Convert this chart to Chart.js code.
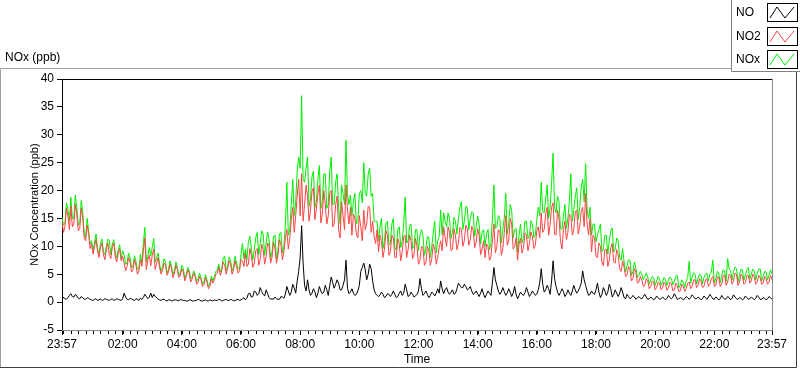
<!DOCTYPE html>
<html>
<head>
<meta charset="utf-8">
<title>NOx (ppb)</title>
<script src="https://cdn.jsdelivr.net/npm/chart.js@4.4.1/dist/chart.umd.min.js"></script>
<style>
  html, body { margin: 0; padding: 0; background: #fff; }
</style>
</head>
<body>
<canvas id="noxChart" width="800" height="369"></canvas>
<script>
// one reading every 6 minutes, counted from 23:57; the *Mid arrays hold
// the readings 3 minutes after each of those
var minutes = [];
for (var i = 0; i <= 240; i++) minutes.push(i * 6);

var tickMinutes = [0, 123, 243, 363, 483, 603, 723, 843, 963, 1083, 1203, 1323, 1440];
var tickLabels = ["23:57", "02:00", "04:00", "06:00", "08:00", "10:00", "12:00",
                  "14:00", "16:00", "18:00", "20:00", "22:00", "23:57"];

var seriesNames = ["NO", "NO2", "NOx"];
var seriesColors = ["#000000", "#ff4444", "#00f000"];

// values (ppb)
var no = [
  0.4, 0.6, 0.8, 1.5, 0.9, 1.1, 0.6, 0.8, 0.5, 0.7, 0.4,
  0.5, 0.3, 0.6, 0.4, 0.5, 0.3, 0.6, 0.4, 0.5, 0.3,
  1.6, 0.5, 0.7, 0.4, 0.6, 0.3, 0.5, 1.4, 0.6, 1.6,
  1.4, 0.8, 0.4, 0.5, 0.3, 0.4, 0.2, 0.4, 0.3, 0.5,
  0.3, 0.2, 0.4, 0.2, 0.3, 0.5, 0.2, 0.3, 0.2, 0.4,
  0.2, 0.3, 0.5, 0.2, 0.4, 0.3, 0.5, 0.2, 0.4, 0.3,
  0.6, 0.4, 1.5, 0.9, 2, 1.2, 2.6, 1.4, 2.2, 0.8,
  0.6, 0.9, 0.5, 1, 0.7, 2.8, 1.2, 3.2, 1.6, 5.5,
  13.7, 3, 4, 1.2, 2.4, 0.8, 2.8, 1.5, 3, 1.2,
  4.5, 2.5, 4, 2.2, 3, 7.5, 1.5, 2.4, 1.2, 2,
  5.5, 7, 4, 6.8, 3.8, 1.5, 1, 1.8, 0.8, 1.5,
  1, 2, 0.8, 1.6, 1.2, 3.2, 1, 1.8, 0.9, 1.4,
  4.2, 1.2, 2, 0.8, 1.8, 1.1, 2.4, 3.8, 1.5, 2.6,
  1.4, 2.2, 1.6, 3.4, 2.6, 3.2, 2.2, 2.8, 1.4, 2,
  1, 2.4, 0.8, 2, 1.2, 6.2, 3, 1.4, 2.6, 1.2,
  2.4, 1, 2.8, 0.6, 1.8, 1.2, 2.6, 1, 2, 1.2,
  2.2, 6, 1.8, 3, 1.4, 7.4, 2.8, 1.2, 2.4, 1,
  2.2, 1.2, 3, 1.6, 2.6, 5.6, 3, 1.2, 2, 1.4,
  3.4, 0.8, 2.6, 1.2, 3.2, 0.9, 2.2, 1, 2.6, 0.8,
  1.4, 0.6, 1.2, 0.5, 1, 0.6, 1.4, 0.5, 0.9, 0.4,
  1.1, 0.5, 0.9, 0.4, 1.2, 0.6, 1.5, 0.5, 0.8, 0.4,
  1, 0.5, 1.3, 0.6, 0.9, 0.4, 1.1, 0.5, 1.4, 0.6,
  0.9, 0.4, 1.2, 0.5, 1, 0.4, 1.3, 0.6, 0.8, 0.4,
  1.1, 0.5, 0.9, 0.4, 1.2, 0.5, 0.8, 0.4, 1, 0.5
];
var noMid = [
  0.9, 0.5, 1.2, 1, 1.4, 0.7, 1, 0.5, 0.8, 0.5,
  0.3, 0.6, 0.4, 0.3, 0.6, 0.4, 0.5, 0.3, 0.6, 0.4,
  0.6, 0.9, 0.4, 0.6, 0.3, 0.5, 0.7, 0.8, 1, 0.9,
  0.8, 1, 0.5, 0.3, 0.5, 0.2, 0.4, 0.3, 0.4, 0.2,
  0.4, 0.3, 0.2, 0.4, 0.2, 0.3, 0.4, 0.2, 0.4, 0.2,
  0.3, 0.4, 0.3, 0.4, 0.3, 0.5, 0.3, 0.4, 0.3, 0.5,
  0.4, 0.8, 0.7, 1.6, 1, 1.8, 1.5, 1.9, 1.1, 1.5,
  0.5, 0.5, 0.6, 0.5, 0.9, 1.4, 2, 1.8, 2.5, 3.8,
  8, 7, 2, 2.2, 1.6, 1.8, 1.6, 2, 1.8, 2.2,
  3, 3.5, 3.2, 3.4, 2.2, 4, 2.5, 1.8, 1.6, 1.4,
  3, 6.2, 5.8, 5, 6, 2.2, 1.2, 1.3, 1.4, 1,
  1.4, 1.4, 1.4, 1, 2, 1.6, 2.2, 1.2, 1.4, 1.1,
  2, 2.4, 1.5, 1.4, 1.2, 1.5, 1.6, 1.6, 2.4, 2.2,
  1.8, 1.8, 1.4, 2.4, 3, 2.6, 2.8, 2.4, 2, 1.6,
  1.5, 1.6, 1.4, 1.4, 1.6, 3.6, 4, 2, 1.8, 1.9,
  1.6, 1.8, 1.6, 1.4, 1.2, 1.4, 1.7, 1.8, 1.4, 1.6,
  1.5, 3.5, 3.2, 2.2, 2.4, 3.8, 4.2, 1.8, 1.7, 1.9,
  1.4, 1.6, 2, 2.2, 2, 3.4, 4, 2, 1.4, 1.6,
  2.2, 1.8, 1.4, 2, 1.8, 2.4, 1.4, 1.6, 1.6, 1.8,
  0.6, 1, 0.8, 0.9, 0.8, 0.7, 1, 0.9, 0.6, 0.7,
  0.6, 0.8, 0.6, 0.7, 0.7, 0.8, 0.9, 1, 0.6, 0.7,
  0.6, 0.8, 0.8, 1, 0.6, 0.7, 0.6, 0.8, 0.9, 1,
  0.5, 0.7, 0.6, 0.8, 0.6, 0.8, 0.7, 0.9, 0.5, 0.7,
  0.6, 0.8, 0.6, 0.7, 0.7, 0.9, 0.5, 0.7, 0.6, 0.8
];

var no2 = [
  14.5, 13.5, 15.5, 17.2, 14, 15.8, 13.2, 15.2, 11, 12.3, 10.5,
  10, 9.2, 9.8, 8.5, 9.4, 8.4, 9.8, 8.2, 8.8, 7.4,
  7, 6.4, 7.2, 5.8, 6.6, 5.6, 6.4, 11.5, 7.5, 6.5,
  9.5, 7, 6.2, 5.8, 6.6, 5.4, 6, 5.2, 5.8, 4.8,
  5.4, 4.6, 5.2, 4.2, 4.6, 3.6, 4, 3.2, 3.6, 2.8,
  3.4, 5, 6.2, 5.6, 6.6, 6, 6.8, 5.8, 6.4, 5.6,
  7.4, 8.8, 6.8, 8.4, 7, 9.6, 7.6, 9.4, 8.2, 10,
  8, 9.6, 8.4, 10.4, 9, 13, 11.5, 17, 15.5, 22,
  23, 17.5, 19, 16.5, 20.5, 16.8, 21, 15.8, 17.5, 15.5,
  20, 14, 19, 11.5, 15.5, 21, 14, 12, 15, 11.5,
  13.5, 16.5, 14, 17, 14.5, 10.5, 9, 11, 9.5, 12,
  9, 11.5, 8, 10.5, 9, 12, 9.5, 11, 8.6, 10,
  7.5, 9.8, 7, 9.2, 7.8, 9.5, 8, 11, 13.5, 10,
  12.5, 9.5, 12, 10.5, 13, 11, 13.2, 11.2, 12.8, 10.8,
  12, 9.5, 8, 10, 8.2, 14, 10, 12.5, 9.5, 15.5,
  11, 14, 10, 7.5, 11.5, 9.8, 12, 10.5, 11.8, 10.2,
  13.5, 16, 13, 17, 14, 17.8, 12, 15, 9.5, 14.5,
  12.5, 15.5, 13, 16.5, 13.5, 17, 19.5, 12, 9, 11.5,
  8, 10, 6.5, 9.5, 7.5, 10.5, 7, 8.5, 5.5, 6.2,
  4.8, 5.8, 4.2, 5.4, 3.6, 4, 3, 3.8, 2.8, 3.6,
  2.6, 3.4, 2.5, 3.2, 2.6, 3.3, 2.2, 3, 2, 2.8,
  2.4, 3.6, 2.8, 4, 3, 3.8, 2.8, 4.2, 3.2, 4.6,
  3, 4.4, 3.2, 4.8, 3.6, 4.8, 3.8, 5, 3.6, 4.6,
  3.5, 4.8, 3.8, 4.6, 3.6, 4.4, 3.4, 4.2, 3.6, 4
];
var no2Mid = [
  12.5, 16.8, 13, 13.5, 17.5, 12.8, 16.8, 11.5, 13.8, 9.6,
  8.6, 11.2, 8, 10.6, 7.6, 10.6, 7.8, 10.6, 7.2, 9.6,
  8.2, 5.6, 8, 5.4, 7.6, 5, 7.6, 9.2, 5.8, 8.4,
  8.4, 5.8, 8, 5, 7, 4.8, 6.8, 4.4, 6.6, 4.4,
  6, 3.8, 5.8, 3.6, 5.2, 3.2, 4.6, 2.8, 4.4, 2.4,
  4.2, 4, 5.2, 4.8, 7.2, 5, 7.4, 5, 7.4, 5.2,
  7.6, 6.4, 6.4, 9.6, 6.2, 9.2, 6.6, 10.4, 6.8, 10.6,
  7, 10.8, 7, 11.2, 7.6, 11.5, 9.5, 14.8, 12.5, 19,
  15.5, 14.5, 21, 14.5, 19.8, 14.8, 19.5, 14.2, 20, 14,
  19.5, 13.5, 17.5, 13, 18, 13, 16.5, 17, 15.8, 12.2,
  15.5, 11, 13, 17.2, 12.5, 11.8, 13, 12, 8, 12.8,
  8.4, 12, 8, 11.4, 7.4, 11.8, 8, 12, 7.8, 11.4,
  6.8, 10, 6.6, 10, 6.6, 10.4, 6.8, 9.8, 9.2, 11.6,
  13.5, 9.2, 13.2, 9.4, 13.4, 10, 13.8, 10.2, 13.6, 9.8,
  13.2, 8.5, 11, 10.4, 7.5, 11, 8.8, 13, 8.4, 12.5,
  10.2, 15, 9.5, 11.5, 10.4, 8.8, 12.4, 9.2, 12.6, 9.6,
  12.8, 11.5, 12.5, 15.8, 12, 17, 12.2, 16.5, 11, 13,
  11.2, 15.8, 12, 16.2, 12.2, 16.2, 13.5, 14, 15, 12,
  8.2, 10.6, 7.2, 9.4, 6.4, 9.8, 7.2, 9.4, 6, 7.4,
  4.6, 6.4, 3.8, 6, 3.4, 4.6, 2.8, 4.2, 2.4, 3.8,
  2.2, 3.6, 2.2, 3.6, 2.1, 3.6, 2, 3.4, 1.9, 3.2,
  1.9, 3.4, 2.4, 4, 2.6, 4.2, 2.6, 4, 2.8, 4.2,
  2.8, 4.6, 2.8, 4.8, 3, 5, 3.2, 5.2, 3, 5,
  3.2, 4.8, 3.4, 5, 3.2, 4.8, 3.2, 4.6, 3.2, 4.8
];

var nox = [
  15.2, 14.2, 16.5, 18.8, 15, 17, 14, 16.2, 11.6, 12.8, 11,
  10.6, 9.6, 10.5, 9, 10, 11, 10.4, 8.8, 9.4, 7.8,
  8.4, 7, 8, 6.3, 7.3, 6, 7, 13.4, 8.2, 8.3,
  11.4, 8, 6.7, 6.3, 7.2, 5.8, 6.5, 5.6, 6.2, 5.3,
  6, 4.9, 5.7, 4.5, 5, 4.2, 4.3, 3.6, 4, 3.3,
  3.8, 5.5, 6.8, 6, 8.2, 6.4, 7.3, 6.3, 7, 6,
  10.5, 9.5, 10.8, 9.6, 9.4, 12.5, 10.5, 12.2, 10.6, 11.2,
  9, 12, 9.2, 12.5, 10, 21.5, 13, 22, 18, 26,
  37, 21.5, 26, 18.5, 23.5, 18, 24.5, 18, 23, 17.5,
  26, 17.5, 23, 14, 19.5, 29, 17.5, 15.5, 19.5, 14.5,
  20, 25, 19, 24, 19.5, 14.5, 11, 15, 11, 14.5,
  10.5, 15, 9.3, 13.5, 11, 18.8, 11, 14, 10, 13,
  12, 12, 9.5, 11.5, 10, 14.5, 11, 16.5, 16, 13.5,
  15, 12.5, 14.5, 15, 18, 14.5, 17, 15, 16, 13.5,
  14, 12.5, 10, 13, 10.5, 21, 13.5, 15, 13, 19.5,
  14, 16.5, 13, 9, 14, 11.5, 14.5, 12, 14, 12,
  17, 21.5, 16, 21, 17, 26.7, 16, 18, 13, 17.5,
  15, 23, 16.5, 20.5, 17, 22, 24.8, 15, 12, 14,
  12, 14, 9.5, 12, 11, 13.3, 9.5, 11, 7.5, 7.2,
  6.5, 7.5, 5.5, 6, 4.8, 5, 4.6, 4.5, 4, 4.3,
  3.8, 4.2, 3.6, 4, 4, 4.2, 3.8, 4.8, 3, 3.6,
  3.8, 7.3, 4.5, 5, 4.2, 4.8, 4.4, 5.2, 5, 7.5,
  4.2, 5.2, 4.8, 5.6, 7.8, 5.6, 5.5, 6, 4.8, 5.8,
  4.9, 6.2, 5, 5.6, 5.2, 6, 4.6, 5.4, 4.8, 5
];
var noxMid = [
  13.8, 17.8, 14.6, 15, 19.2, 13.8, 18.2, 12.4, 15, 10.4,
  9.2, 12.2, 8.6, 11.3, 8.5, 11.3, 8.5, 11.2, 8, 10.3,
  9.2, 6.8, 8.8, 6.2, 8.3, 5.8, 8.6, 10.5, 7.2, 9.8,
  9.8, 7.2, 8.8, 5.6, 7.8, 5.2, 7.4, 5, 7.2, 4.8,
  6.6, 4.3, 6.2, 4.2, 5.6, 3.7, 5.2, 3.2, 4.9, 2.8,
  4.7, 4.6, 5.8, 5.4, 8, 5.7, 8.1, 5.6, 8.2, 6,
  8.5, 7.8, 7.6, 11.8, 7.6, 11.6, 8.5, 12.8, 8.4, 12.6,
  7.8, 11.8, 7.8, 12.2, 8.8, 13.6, 12, 17.5, 15.5, 23.5,
  24, 22, 24, 17.2, 22.5, 17, 22, 16.8, 23, 16.8,
  23.5, 17.5, 21.5, 17, 21, 17.5, 19.5, 19.2, 18, 14,
  19.5, 17.8, 19.5, 23, 19, 14.5, 14.5, 13.6, 9.6, 14.2,
  10.2, 14, 9.8, 13, 9.8, 14, 10.6, 13.6, 9.6, 13,
  9.2, 13, 8.4, 11.8, 8, 12.4, 8.8, 11.8, 12, 14.5,
  16, 11.4, 15.2, 12.2, 17, 13, 17.2, 13, 16.2, 11.8,
  15.4, 10.4, 13, 12.2, 9.4, 15.2, 13.2, 15.5, 10.6, 15,
  12.2, 17.5, 11.5, 13.2, 12, 10.6, 14.5, 11.4, 14.6, 11.6,
  14.8, 15.5, 16.2, 18.5, 15, 21.5, 17, 19, 13.2, 15.4,
  13.2, 18, 14.5, 19, 14.8, 20.5, 18, 16.5, 17, 14,
  10.8, 13, 9, 12, 8.6, 12.8, 9, 11.5, 8, 9.6,
  5.4, 7.6, 4.8, 7.2, 4.4, 5.5, 4, 5.2, 3.2, 4.6,
  3, 4.6, 3, 4.4, 3, 4.5, 3.1, 4.6, 2.6, 4,
  2.6, 4.4, 3.4, 5.2, 3.3, 5, 3.3, 5, 3.8, 5.4,
  3.4, 5.5, 3.5, 5.8, 3.7, 6, 4, 6.3, 3.6, 5.9,
  3.9, 5.8, 4.1, 5.9, 4, 5.9, 3.8, 5.5, 4, 5.8
];

var FONT = "'Liberation Sans', Arial, sans-serif";

// merge the 6-minute readings with the readings taken 3 minutes later
function toPoints(values, midValues) {
  var pts = [];
  for (var k = 0; k < values.length; k++) {
    pts.push({ x: minutes[k], y: values[k] });
    if (k < midValues.length) pts.push({ x: minutes[k] + 3, y: midValues[k] });
  }
  return pts;
}

// panel frame, title, plot border, minor time ticks and the legend box
var panelPlugin = {
  id: 'panel',
  beforeDraw: function (chart) {
    var ctx = chart.ctx;
    ctx.save();
    ctx.fillStyle = '#ffffff';
    ctx.fillRect(0, 0, chart.width, chart.height);
    ctx.lineWidth = 1;
    ctx.strokeStyle = '#a0a0a0';
    ctx.beginPath();
    ctx.moveTo(0.5, 367.5); ctx.lineTo(0.5, 68.5); ctx.lineTo(731, 68.5);
    ctx.stroke();
    ctx.strokeStyle = '#404040';
    ctx.beginPath();
    ctx.moveTo(0, 367.5); ctx.lineTo(796.5, 367.5); ctx.lineTo(796.5, 71);
    ctx.stroke();
    ctx.fillStyle = '#000';
    ctx.font = '12px ' + FONT;
    ctx.textBaseline = 'middle';
    ctx.fillText('NOx (ppb)', 5, 58);
    ctx.restore();
  },
  afterDraw: function (chart) {
    var ctx = chart.ctx, a = chart.chartArea;
    var xs = chart.scales.x;
    ctx.save();
    ctx.lineWidth = 1;
    ctx.strokeStyle = '#000';
    ctx.beginPath();
    ctx.moveTo(a.left, a.top + 0.5); ctx.lineTo(a.right, a.top + 0.5);
    ctx.stroke();
    ctx.strokeStyle = '#8c8c8c';
    ctx.beginPath();
    ctx.moveTo(a.right + 0.5, a.top); ctx.lineTo(a.right + 0.5, a.bottom + 0.5);
    ctx.lineTo(a.left, a.bottom + 0.5);
    ctx.stroke();

    // minor ticks every 15 minutes
    ctx.strokeStyle = '#000';
    ctx.beginPath();
    for (var m = 3; m < 1440; m += 15) {
      var px = Math.round(xs.getPixelForValue(m)) + 0.5;
      ctx.moveTo(px, a.bottom + 1); ctx.lineTo(px, a.bottom + 4);
    }
    ctx.stroke();

    // legend
    ctx.fillStyle = '#fff';
    ctx.fillRect(731, 0, 69, 71);
    ctx.strokeStyle = '#808080';
    ctx.beginPath();
    ctx.moveTo(731.5, 0); ctx.lineTo(731.5, 71.5); ctx.lineTo(800, 71.5);
    ctx.stroke();
    ctx.font = '12px ' + FONT;
    ctx.textBaseline = 'middle';
    var rowY = [13, 37, 60];
    chart.data.datasets.forEach(function (ds, k) {
      var y = rowY[k];
      ctx.fillStyle = '#000';
      ctx.fillText(ds.label, 736, y);
      ctx.strokeStyle = '#000';
      ctx.strokeRect(767.5, y - 9.5, 30, 18);
      ctx.strokeStyle = ds.borderColor;
      ctx.beginPath();
      ctx.moveTo(770, y + 5); ctx.lineTo(777, y - 6);
      ctx.lineTo(785, y + 5); ctx.lineTo(794, y - 6);
      ctx.stroke();
    });
    ctx.restore();
  }
};

var ctxN = document.getElementById('noxChart').getContext('2d');
var noxChart = new Chart(ctxN, {
  type: 'line',
  data: {
    datasets: [
      { label: seriesNames[0], data: toPoints(no, noMid), borderColor: seriesColors[0] },
      { label: seriesNames[1], data: toPoints(no2, no2Mid), borderColor: seriesColors[1] },
      { label: seriesNames[2], data: toPoints(nox, noxMid), borderColor: seriesColors[2] }
    ]
  },
  options: {
    responsive: false,
    animation: false,
    layout: { padding: { left: 0, top: 79, right: 28, bottom: 0 } },
    elements: {
      point: { radius: 0 },
      line: { borderWidth: 1, tension: 0, fill: false }
    },
    plugins: {
      legend: { display: false },
      tooltip: { enabled: false },
      title: { display: false }
    },
    scales: {
      x: {
        type: 'linear',
        min: 0,
        max: 1440,
        afterBuildTicks: function (s) {
          s.ticks = tickMinutes.map(function (v) { return { value: v }; });
        },
        afterFit: function (s) { s.height = 39; },
        ticks: {
          autoSkip: false,
          maxRotation: 0,
          padding: 2,
          color: '#000',
          font: { family: FONT, size: 12 },
          callback: function (v, idx) { return tickLabels[idx]; }
        },
        grid: { drawOnChartArea: false, tickLength: 5, tickColor: '#000' },
        border: { display: false },
        title: {
          display: true, text: 'Time', color: '#000',
          font: { family: FONT, size: 12 }, padding: { top: 0, bottom: 2 }
        }
      },
      y: {
        min: -5,
        max: 40,
        afterFit: function (s) { s.width = 62; },
        ticks: {
          stepSize: 5,
          padding: 3,
          color: '#000',
          font: { family: FONT, size: 12 }
        },
        grid: { drawOnChartArea: false, tickLength: 5, tickColor: '#000' },
        border: { display: true, color: '#000', width: 1 },
        title: {
          display: true, text: 'NOx Concentration (ppb)', color: '#000',
          font: { family: FONT, size: 11 }, padding: { top: 28, bottom: 0 }
        }
      }
    }
  },
  plugins: [panelPlugin]
});
</script>
</body>
</html>
